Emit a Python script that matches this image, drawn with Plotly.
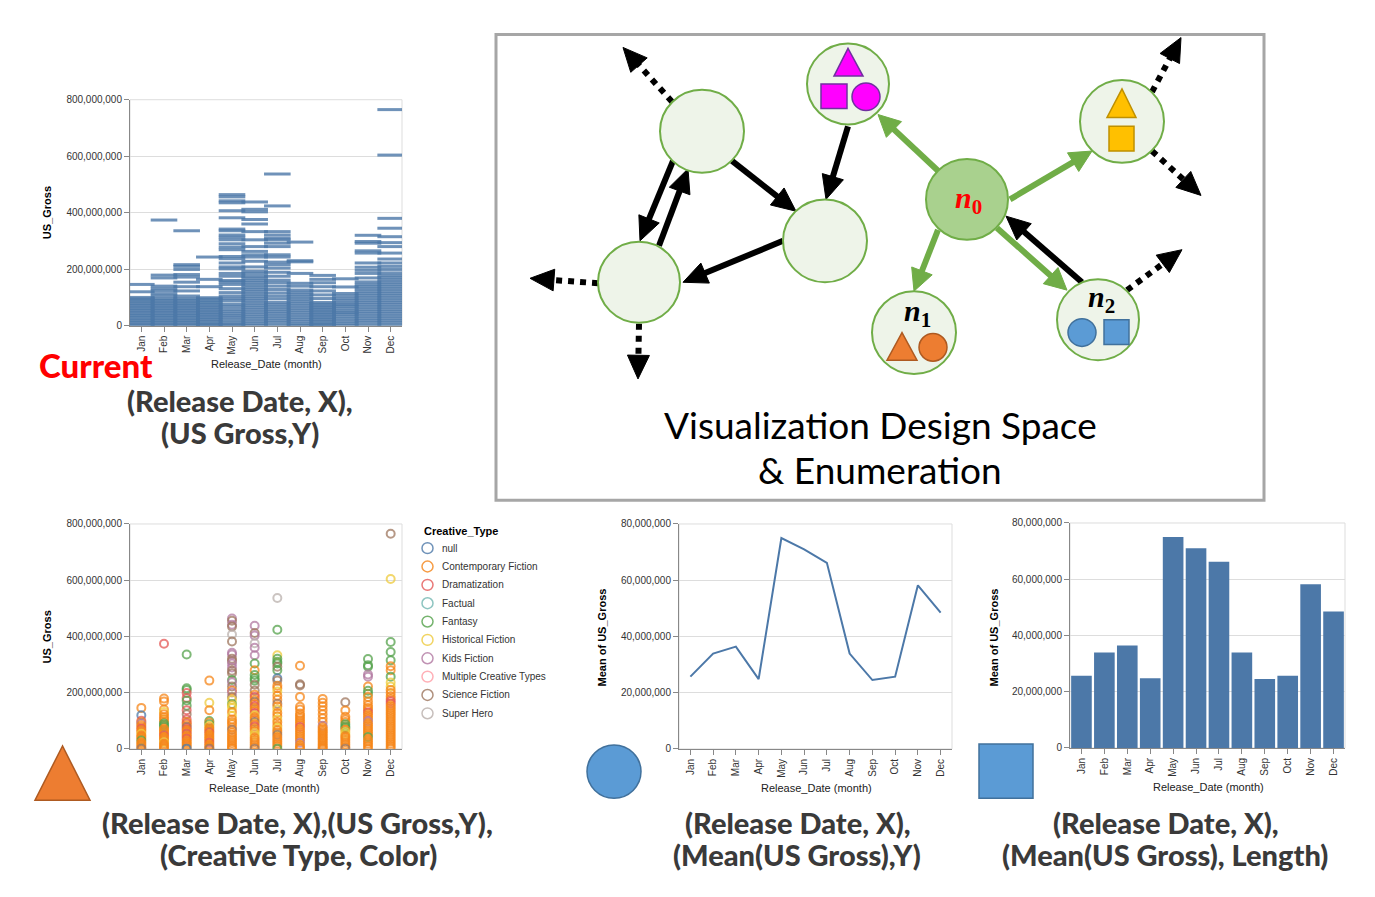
import math
import plotly.graph_objects as go

W, H = 1375, 897


def px(x):
    return x / W


def py(y):
    return 1 - y / H


# ---------------- data ----------------
months = ["Jan", "Feb", "Mar", "Apr", "May", "Jun", "Jul", "Aug", "Sep", "Oct", "Nov", "Dec"]

# US gross per movie (millions of dollars) and creative-type index, per release month
jan_gross = [146, 120, 100, 95, 90, 84, 78, 72, 66, 60, 54, 48, 42, 36, 30, 24, 18, 12, 6, 1]
jan_type = [1, 0, 2, 1, 6, 1, 1, 2, 1, 1, 5, 1, 1, 1, 4, 1, 1, 1, 1, 8]
feb_gross = [374, 179, 169, 140, 131, 123, 113, 105, 96, 90, 84, 78, 72, 66, 60, 54, 48, 42, 36, 30, 24, 18, 12, 6, 1]
feb_type = [2, 1, 1, 1, 5, 1, 1, 1, 1, 4, 4, 4, 1, 1, 1, 1, 2, 1, 1, 1, 5, 1, 1, 1, 1]
mar_gross = [336, 216, 210, 199, 181, 172, 154, 138, 123, 105, 96, 90, 84, 78, 72, 66, 60, 54, 48, 42, 36, 30, 24, 18, 12, 6, 1]
mar_type = [4, 4, 4, 2, 2, 4, 4, 2, 8, 2, 1, 2, 1, 8, 2, 1, 1, 2, 1, 1, 2, 1, 1, 1, 1, 1, 0]
apr_gross = [243, 164, 138, 99, 94, 88, 82, 76, 70, 64, 58, 52, 46, 40, 34, 28, 22, 16, 10, 4, 1]
apr_type = [1, 5, 1, 4, 1, 4, 5, 1, 1, 1, 2, 1, 1, 1, 1, 1, 2, 1, 1, 1, 8]
may_gross = [464, 456, 442, 435, 407, 382, 342, 336, 321, 313, 304, 290, 278, 269, 245, 237, 222, 208, 201, 185,
             175, 160, 155, 146, 131, 117, 105, 96, 88, 76, 68, 58, 50, 42, 35, 28, 20, 12, 5, 1]
may_type = [6, 8, 6, 8, 9, 8, 6, 6, 8, 8, 6, 6, 8, 8, 4, 6, 8, 1, 6, 8,
            5, 4, 5, 5, 1, 5, 1, 1, 1, 1, 8, 1, 1, 1, 1, 1, 1, 1, 1, 1]
jun_gross = [438, 412, 403, 376, 360, 333, 304, 280, 263, 251, 243, 228, 208, 193, 185, 175, 168, 160, 152,
             144, 136, 128, 120, 112, 104, 96, 88, 80, 72, 64, 56, 48, 40, 32, 24, 16, 8, 1]
jun_type = [6, 8, 6, 9, 6, 6, 4, 1, 4, 4, 4, 8, 8, 1, 2, 1, 8, 1, 2,
            1, 1, 2, 5, 1, 1, 8, 1, 2, 1, 1, 5, 5, 1, 1, 1, 1, 1, 8]
jul_gross = [537, 424, 333, 321, 310, 304, 292, 280, 251, 243, 225, 216, 204, 189, 175, 161, 152, 140, 128,
             116, 105, 95, 82, 74, 66, 58, 50, 42, 34, 26, 18, 10, 1]
jul_type = [9, 4, 5, 4, 4, 4, 8, 4, 0, 8, 1, 1, 5, 1, 1, 8, 1, 5, 1,
            1, 5, 1, 1, 5, 1, 1, 8, 1, 1, 1, 1, 1, 4]
aug_gross = [296, 230, 226, 185, 150, 140, 126, 118, 110, 102, 94, 86, 78, 70, 62, 54, 46, 38, 30, 22, 14, 6, 1]
aug_type = [1, 8, 8, 1, 1, 1, 1, 1, 1, 1, 1, 1, 2, 1, 1, 1, 1, 1, 1, 6, 1, 1, 1]
sep_gross = [178, 164, 152, 138, 123, 109, 96, 82, 76, 70, 64, 58, 52, 46, 40, 34, 28, 22, 16, 10, 4, 1]
sep_type = [1, 1, 1, 1, 1, 1, 1, 6, 1, 1, 1, 1, 1, 1, 1, 1, 1, 1, 1, 1, 1, 1]
oct_gross = [166, 137, 114, 105, 96, 88, 80, 74, 68, 60, 52, 46, 40, 32, 24, 16, 8, 1]
oct_type = [8, 1, 1, 1, 1, 4, 4, 4, 1, 5, 5, 1, 1, 1, 1, 1, 1, 8]
nov_gross = [320, 298, 292, 265, 257, 222, 207, 196, 185, 169, 155, 146, 138, 130, 122, 114, 106, 98, 90, 82,
             74, 66, 58, 50, 42, 34, 26, 18, 10, 1]
nov_type = [4, 4, 4, 6, 6, 1, 4, 4, 1, 1, 1, 1, 1, 2, 1, 1, 1, 6, 1, 1,
            1, 1, 1, 1, 4, 1, 1, 1, 1, 1]
dec_gross = [765, 604, 380, 345, 315, 294, 280, 257, 236, 222, 210, 199, 187, 178, 170, 162, 154, 146, 138, 130,
             122, 114, 106, 98, 90, 82, 74, 66, 58, 50, 42, 34, 26, 18, 10, 2]
dec_type = [8, 5, 4, 4, 4, 1, 1, 4, 5, 5, 1, 1, 1, 1, 2, 2, 1, 1, 1, 1,
            1, 1, 1, 1, 1, 1, 1, 1, 1, 1, 1, 1, 1, 1, 1, 1]

gross_by_month = [jan_gross, feb_gross, mar_gross, apr_gross, may_gross, jun_gross,
                  jul_gross, aug_gross, sep_gross, oct_gross, nov_gross, dec_gross]
type_by_month = [jan_type, feb_type, mar_type, apr_type, may_type, jun_type,
                 jul_type, aug_type, sep_type, oct_type, nov_type, dec_type]

# mean US gross per month (millions)
mean_gross = [25.7, 33.9, 36.4, 24.8, 75.0, 71.0, 66.2, 33.9, 24.5, 25.7, 58.2, 48.5]

creative_types = ["null", "Contemporary Fiction", "Dramatization", "Factual", "Fantasy",
                  "Historical Fiction", "Kids Fiction", "Multiple Creative Types",
                  "Science Fiction", "Super Hero"]
type_colors = ["#4c78a8", "#f58518", "#e45756", "#72b7b2", "#54a24b",
               "#eeca3b", "#b279a2", "#ff9da6", "#9d755d", "#bab0ac"]

gross_ticks = [0, 200, 400, 600, 800]
gross_tick_text = ["0", "200,000,000", "400,000,000", "600,000,000", "800,000,000"]
mean_ticks = [0, 20, 40, 60, 80]
mean_tick_text = ["0", "20,000,000", "40,000,000", "60,000,000", "80,000,000"]

# ---------------- figure ----------------
BLUE = "#4c78a8"
fig = go.Figure()

flat_x, flat_y, flat_c = [], [], []
for m, vals, types in zip(months, gross_by_month, type_by_month):
    for v, t in zip(vals, types):
        flat_x.append(m)
        flat_y.append(v)
        flat_c.append(type_colors[t])

# chart 1: ticks
fig.add_trace(go.Scatter(
    x=flat_x, y=flat_y, mode="markers", xaxis="x", yaxis="y",
    marker=dict(symbol="line-ew", size=19, opacity=0.8, line=dict(width=3, color=BLUE)),
    hoverinfo="skip", showlegend=False))

# chart 2: colored open circles
fig.add_trace(go.Scatter(
    x=flat_x, y=flat_y, mode="markers", xaxis="x2", yaxis="y2",
    marker=dict(symbol="circle-open", size=8, color=flat_c, opacity=0.75, line=dict(width=2)),
    hoverinfo="skip", showlegend=False))

# chart 3: line of means
fig.add_trace(go.Scatter(
    x=months, y=mean_gross, mode="lines", xaxis="x3", yaxis="y3",
    line=dict(color=BLUE, width=2), hoverinfo="skip", showlegend=False))

# chart 4: bars of means
fig.add_trace(go.Bar(
    x=months, y=mean_gross, xaxis="x4", yaxis="y4",
    marker=dict(color=BLUE, line=dict(width=0)), hoverinfo="skip", showlegend=False))

# plot-area rectangles (pixels): left, right, top, bottom
areas = {
    1: (130, 402, 95, 324),
    2: (130, 402, 525, 753),
    3: (679, 952, 525, 753),
    4: (1070, 1345, 524, 752),
}

layout_axes = {}
shapes = []
annotations = []
tick_font = dict(family="Liberation Sans, Arial, sans-serif", size=10, color="#333")
for n, (l, r, t, b) in areas.items():
    sfx = "" if n == 1 else str(n)
    if n <= 2:
        yr, tv, tt = [0, 800], gross_ticks, gross_tick_text
    else:
        yr, tv, tt = [0, 80], mean_ticks, mean_tick_text
    layout_axes["xaxis" + sfx] = dict(
        domain=[px(l), px(r)], anchor="y" + sfx, type="category",
        categoryorder="array", categoryarray=months, range=[-0.5, 11.5],
        tickangle=-90, ticks="outside", ticklen=5, tickcolor="#888",
        showline=True, linecolor="#888", linewidth=1, showgrid=False,
        tickfont=tick_font, fixedrange=True)
    layout_axes["yaxis" + sfx] = dict(
        domain=[py(b), py(t)], anchor="x" + sfx, range=yr,
        tickvals=tv, ticktext=tt, ticks="outside", ticklen=5, tickcolor="#888",
        showline=True, linecolor="#888", linewidth=1, showgrid=True,
        gridcolor="#dddddd", gridwidth=1, zeroline=False,
        tickfont=tick_font, fixedrange=True)
    shapes.append(dict(type="rect", xref="paper", yref="paper", layer="below",
                       x0=px(l), x1=px(r), y0=py(b), y1=py(t),
                       line=dict(color="#dddddd", width=1)))

title_font = dict(family="Liberation Sans, Arial, sans-serif", size=11, color="#000")


def ann(x, y, text, font, **kw):
    d = dict(xref="paper", yref="paper", x=px(x), y=py(y), text=text, font=font,
             showarrow=False, xanchor="center", yanchor="middle")
    d.update(kw)
    annotations.append(d)


# axis titles
ann(47, 210, "<b>US_Gross</b>", title_font, textangle=-90)
ann(266, 363, "Release_Date (month)", dict(title_font, color="#222"))
ann(47, 640, "<b>US_Gross</b>", title_font, textangle=-90)
ann(264, 793, "Release_Date (month)", dict(title_font, color="#222"))
ann(602, 640, "<b>Mean of US_Gross</b>", title_font, textangle=-90)
ann(816, 793, "Release_Date (month)", dict(title_font, color="#222"))
ann(994, 640, "<b>Mean of US_Gross</b>", title_font, textangle=-90)
ann(1208, 792, "Release_Date (month)", dict(title_font, color="#222"))

# legend for chart 2
ann(422, 532, "<b>Creative_Type</b>", title_font, xanchor="left")
for i, (name, col) in enumerate(zip(creative_types, type_colors)):
    cy = 549.5 + i * 18.6
    shapes.append(dict(type="circle", xref="paper", yref="paper",
                       x0=px(422), x1=px(433), y0=py(cy + 5.5), y1=py(cy - 5.5),
                       line=dict(color=col, width=1.5), opacity=0.8))
    ann(440, cy, name, dict(family="Liberation Sans, Arial, sans-serif", size=10, color="#333"),
        xanchor="left")

# captions
cap_font = dict(family="Lato, sans-serif", size=29, color="#3a3a3a", weight=900)
ann(240, 400, "(Release Date, X),", cap_font)
ann(240, 432, "(US Gross,Y)", cap_font)
ann(297, 828, "(Release Date, X),(US Gross,Y),", cap_font)
ann(298, 860, "(Creative Type, Color)", cap_font)
ann(798, 828, "(Release Date, X),", cap_font)
ann(797, 860, "(Mean(US Gross),Y)", cap_font)
ann(1166, 828, "(Release Date, X),", cap_font)
ann(1165, 860, "(Mean(US Gross), Length)", cap_font)
ann(96, 364, "Current", dict(family="Lato, sans-serif", size=33, color="#ff0000", weight=900))

# diagram box and title
shapes.append(dict(type="rect", xref="paper", yref="paper",
                   x0=px(496), x1=px(1264), y0=py(501), y1=py(29),
                   line=dict(color="#a6a6a6", width=3)))
ann(880, 424, "Visualization Design Space", dict(family="Lato, sans-serif", size=37, color="#000"))
ann(880, 470, "&amp; Enumeration", dict(family="Lato, sans-serif", size=37, color="#000"))


def arrow(x0, y0, x1, y1, color, width=6, hl=24, hw=22, dash="solid"):
    dx, dy = x1 - x0, y1 - y0
    L = math.hypot(dx, dy)
    ux, uy = dx / L, dy / L
    nx, ny = -uy, ux
    bx, by = x1 - ux * hl, y1 - uy * hl
    shapes.append(dict(type="line", xref="paper", yref="paper",
                       x0=px(x0), y0=py(y0), x1=px(bx + ux * 2), y1=py(by + uy * 2),
                       line=dict(color=color, width=width, dash=dash)))
    shapes.append(dict(type="path", xref="paper", yref="paper",
                       path="M{},{} L{},{} L{},{} Z".format(
                           px(x1), py(y1),
                           px(bx + nx * hw / 2), py(by + ny * hw / 2),
                           px(bx - nx * hw / 2), py(by - ny * hw / 2)),
                       fillcolor=color, line=dict(color=color, width=1)))


BLACK = "#000000"
GREEN = "#70ad47"
DOT = "6px,6px"
# solid black arrows
arrow(673, 157, 640, 238, BLACK)
arrow(659, 243, 688, 165, BLACK)
arrow(732, 157, 796, 208, BLACK)
arrow(848, 122, 826, 196, BLACK)
arrow(783, 238, 683, 280, BLACK)
arrow(1082, 280, 1006, 213, BLACK)
# green arrows
arrow(938, 167, 878, 110, GREEN, hl=22, hw=22)
arrow(1010, 196, 1092, 147, GREEN, hl=22, hw=22)
arrow(938, 227, 914, 289, GREEN, hl=22, hw=22)
arrow(997, 225, 1067, 288, GREEN, hl=22, hw=22)
# dotted black arrows
arrow(672, 97, 623, 42, BLACK, dash=DOT)
arrow(598, 281, 530, 276, BLACK, dash=DOT)
arrow(639, 322, 638, 378, BLACK, dash=DOT)
arrow(1152, 87, 1181, 32, BLACK, dash=DOT)
arrow(1152, 147, 1201, 192, BLACK, dash=DOT)
arrow(1127, 288, 1182, 247, BLACK, dash=DOT)

# nodes
node_x = [702, 848, 825, 639, 967, 1122, 1098, 914]
node_y = [127, 79, 238, 280, 196, 117, 318, 331]
node_r = [42, 41, 42, 41, 41, 42, 41, 42]
node_fill = ["#eef4e9"] * 4 + ["#a9d18e"] + ["#eef4e9"] * 3
for cx, cy, r, f in zip(node_x, node_y, node_r, node_fill):
    shapes.append(dict(type="circle", xref="paper", yref="paper",
                       x0=px(cx - r), x1=px(cx + r), y0=py(cy + r), y1=py(cy - r),
                       fillcolor=f, line=dict(color=GREEN, width=2)))


def tri(apx, apy, bl, br, by, fill, edge):
    shapes.append(dict(type="path", xref="paper", yref="paper",
                       path="M{},{} L{},{} L{},{} Z".format(px(apx), py(apy), px(bl), py(by), px(br), py(by)),
                       fillcolor=fill, line=dict(color=edge, width=1.5)))


def sq(x0, x1, y0, y1, fill, edge):
    shapes.append(dict(type="rect", xref="paper", yref="paper",
                       x0=px(x0), x1=px(x1), y0=py(y1), y1=py(y0),
                       fillcolor=fill, line=dict(color=edge, width=1.5)))


def circ(cx, cy, r, fill, edge):
    shapes.append(dict(type="circle", xref="paper", yref="paper",
                       x0=px(cx - r), x1=px(cx + r), y0=py(cy + r), y1=py(cy - r),
                       fillcolor=fill, line=dict(color=edge, width=1.5)))


MAG, MAGE = "#ff00ff", "#7030a0"
YEL, YELE = "#ffc000", "#bf9000"
ORG, ORGE = "#ed7d31", "#ae5a21"
BLU, BLUE_E = "#5b9bd5", "#41719c"
tri(848, 43, 834, 863, 71, MAG, MAGE)
sq(821, 847, 79, 104, MAG, MAGE)
circ(866, 92, 14, MAG, MAGE)
tri(1122, 84, 1107, 1136, 113, YEL, YELE)
sq(1109, 1134, 122, 147, YEL, YELE)
circ(1082, 331, 14, BLU, BLUE_E)
sq(1104, 1129, 318, 343, BLU, BLUE_E)
tri(902, 331, 887, 917, 359, ORG, ORGE)
circ(933, 346, 14, ORG, ORGE)

# bottom icons
tri(62.5, 750, 35, 90, 805, ORG, ORGE)
circ(614, 776, 27, BLU, BLUE_E)
sq(979, 1033, 748, 803, BLU, BLUE_E)

# node labels
lab_font = dict(family="Liberation Serif, DejaVu Serif, serif", size=30, color="#000")
ann(968, 197, "<b><i>n</i><sub>0</sub></b>", dict(lab_font, color="#ff0000"))
ann(918, 311, "<b><i>n</i><sub>1</sub></b>", lab_font)
ann(1101, 297, "<b><i>n</i><sub>2</sub></b>", lab_font)

fig.update_layout(
    width=W, height=H, autosize=False,
    margin=dict(l=0, r=0, t=0, b=0),
    paper_bgcolor="white", plot_bgcolor="rgba(0,0,0,0)",
    bargap=0.1, showlegend=False,
    shapes=shapes, annotations=annotations,
    **layout_axes)

pin_page = (
    "document.documentElement.style.margin='0';"
    "document.documentElement.style.overflow='hidden';"
    "document.body.style.margin='0';"
    "document.body.style.overflow='hidden';"
    "var gd=document.getElementsByClassName('plotly-graph-div')[0];"
    "gd.style.position='fixed';gd.style.left='0px';gd.style.top='0px';"
)
fig.write_html("out.html", config={"displayModeBar": False}, post_script=pin_page)
